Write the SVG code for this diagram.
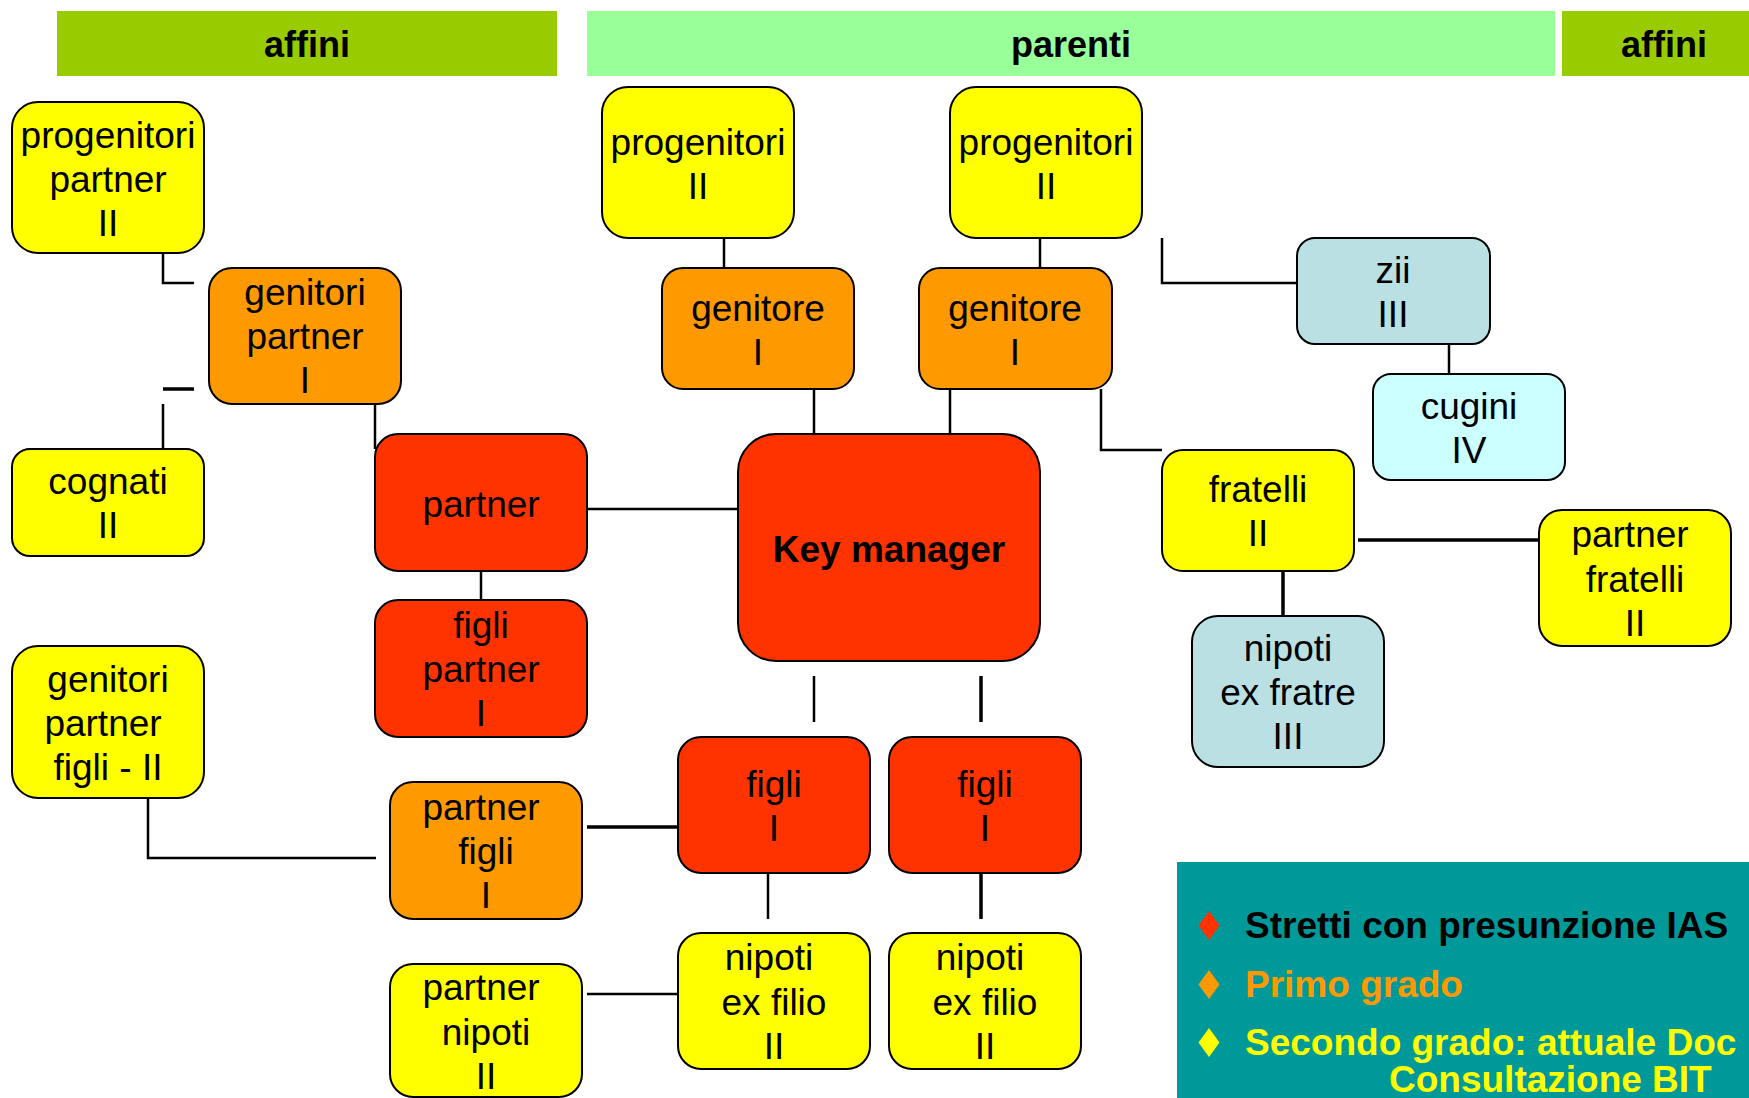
<svg xmlns="http://www.w3.org/2000/svg" width="1749" height="1098" viewBox="0 0 1749 1098">
<style>
.n{stroke:#000;stroke-width:2}
.y{fill:#FFFF00}.o{fill:#FF9900}.r{fill:#FF3300}.b{fill:#BAE0E3}.c{fill:#CCFFFF}
text{font-family:"Liberation Sans",Arial,sans-serif;font-size:37px;text-anchor:middle;fill:#000}
.h{font-weight:bold}
.lg{font-weight:bold;font-size:37px;text-anchor:start}
.k{fill:none;stroke:#000;stroke-width:2.5}
.kt{fill:none;stroke:#000;stroke-width:3.5}
</style>
<rect width="1749" height="1098" fill="#fff"/>
<g id="headers">
<rect x="57" y="11" width="500" height="65" fill="#99CC00"/>
<rect x="587" y="11" width="968" height="65" fill="#99FF99"/>
<rect x="1562" y="11" width="187" height="65" fill="#99CC00"/>
<text class="h" x="307" y="57" style="font-size:36px">affini</text>
<text class="h" x="1071" y="57" style="font-size:36px">parenti</text>
<text class="h" x="1664" y="57" style="font-size:36px">affini</text>
</g>
<g id="connectors">
<polyline class="k" points="163,253 163,283 194,283"/>
<line class="kt" x1="163" y1="389" x2="194" y2="389"/>
<line class="k" x1="163" y1="404" x2="163" y2="450"/>
<line class="k" x1="375" y1="404" x2="375" y2="449"/>
<line class="k" x1="587" y1="509" x2="738" y2="509"/>
<line class="k" x1="481" y1="571" x2="481" y2="600"/>
<polyline class="k" points="148,798 148,858 376,858"/>
<line class="kt" x1="587" y1="827" x2="678" y2="827"/>
<line class="k" x1="587" y1="994" x2="678" y2="994"/>
<line class="k" x1="724" y1="238" x2="724" y2="268"/>
<line class="k" x1="1040" y1="238" x2="1040" y2="268"/>
<line class="k" x1="814" y1="389" x2="814" y2="434"/>
<line class="k" x1="950" y1="389" x2="950" y2="434"/>
<polyline class="k" points="1101,389 1101,450 1162,450"/>
<polyline class="k" points="1162,238 1162,283 1297,283"/>
<line class="k" x1="1449" y1="344" x2="1449" y2="374"/>
<line class="kt" x1="1358" y1="540" x2="1539" y2="540"/>
<line class="kt" x1="1283" y1="571" x2="1283" y2="616"/>
<line class="k" x1="814" y1="676" x2="814" y2="722"/>
<line class="kt" x1="981" y1="676" x2="981" y2="722"/>
<line class="k" x1="768" y1="873" x2="768" y2="919"/>
<line class="kt" x1="981" y1="873" x2="981" y2="919"/>
</g>
<g id="progenitori-partner"><rect class="n y" x="12" y="102" width="192" height="151" rx="26"/><text x="108" y="148">progenitori</text><text x="108" y="192">partner</text><text x="108" y="236">II</text></g>
<g id="genitori-partner"><rect class="n o" x="209" y="268" width="192" height="136" rx="23"/><text x="305" y="305">genitori</text><text x="305" y="349">partner</text><text x="305" y="393">I</text></g>
<g id="cognati"><rect class="n y" x="12" y="449" width="192" height="107" rx="18"/><text x="108" y="494">cognati</text><text x="108" y="538">II</text></g>
<g id="partner"><rect class="n r" x="375" y="434" width="212" height="137" rx="23"/><text x="481" y="517">partner</text></g>
<g id="figli-partner"><rect class="n r" x="375" y="600" width="212" height="137" rx="23"/><text x="481" y="638">figli</text><text x="481" y="682">partner</text><text x="481" y="726">I</text></g>
<g id="genitori-partner-figli"><rect class="n y" x="12" y="646" width="192" height="152" rx="26"/><text x="108" y="692">genitori</text><text x="103" y="736">partner</text><text x="108" y="780">figli - II</text></g>
<g id="partner-figli"><rect class="n o" x="390" y="782" width="192" height="137" rx="23"/><text x="481" y="820">partner</text><text x="486" y="864">figli</text><text x="486" y="908">I</text></g>
<g id="partner-nipoti"><rect class="n y" x="390" y="964" width="192" height="133" rx="23"/><text x="481" y="1000">partner</text><text x="486" y="1045">nipoti</text><text x="486" y="1089">II</text></g>
<g id="progenitori-1"><rect class="n y" x="602" y="87" width="192" height="151" rx="26"/><text x="698" y="155">progenitori</text><text x="698" y="199">II</text></g>
<g id="progenitori-2"><rect class="n y" x="950" y="87" width="192" height="151" rx="26"/><text x="1046" y="155">progenitori</text><text x="1046" y="199">II</text></g>
<g id="genitore-1"><rect class="n o" x="662" y="268" width="192" height="121" rx="21"/><text x="758" y="321">genitore</text><text x="758" y="365">I</text></g>
<g id="genitore-2"><rect class="n o" x="919" y="268" width="193" height="121" rx="21"/><text x="1015" y="321">genitore</text><text x="1015" y="365">I</text></g>
<g id="key-manager"><rect class="n r" x="738" y="434" width="302" height="227" rx="38"/><text class="h" x="889" y="562">Key manager</text></g>
<g id="figli-1"><rect class="n r" x="678" y="737" width="192" height="136" rx="23"/><text x="774" y="797">figli</text><text x="774" y="841">I</text></g>
<g id="figli-2"><rect class="n r" x="889" y="737" width="192" height="136" rx="23"/><text x="985" y="797">figli</text><text x="985" y="841">I</text></g>
<g id="nipoti-filio-1"><rect class="n y" x="678" y="933" width="192" height="136" rx="23"/><text x="769" y="970">nipoti</text><text x="774" y="1015">ex filio</text><text x="774" y="1059">II</text></g>
<g id="nipoti-filio-2"><rect class="n y" x="889" y="933" width="192" height="136" rx="23"/><text x="980" y="970">nipoti</text><text x="985" y="1015">ex filio</text><text x="985" y="1059">II</text></g>
<g id="zii"><rect class="n b" x="1297" y="238" width="193" height="106" rx="18"/><text x="1393" y="283">zii</text><text x="1393" y="327">III</text></g>
<g id="cugini"><rect class="n c" x="1373" y="374" width="192" height="106" rx="18"/><text x="1469" y="419">cugini</text><text x="1469" y="463">IV</text></g>
<g id="fratelli"><rect class="n y" x="1162" y="450" width="192" height="121" rx="21"/><text x="1258" y="502">fratelli</text><text x="1258" y="546">II</text></g>
<g id="partner-fratelli"><rect class="n y" x="1539" y="510" width="192" height="136" rx="23"/><text x="1630" y="547">partner</text><text x="1635" y="592">fratelli</text><text x="1635" y="636">II</text></g>
<g id="nipoti-fratre"><rect class="n b" x="1192" y="616" width="192" height="151" rx="26"/><text x="1288" y="661">nipoti</text><text x="1288" y="705">ex fratre</text><text x="1288" y="749">III</text></g>
<g id="legend">
<rect x="1177" y="862" width="572" height="236" fill="#009999"/>
<polygon points="1209,911 1219.5,925.5 1209,940 1198.5,925.5" fill="#FF3300"/>
<polygon points="1209,970 1219.5,984.5 1209,999 1198.5,984.5" fill="#FF9900"/>
<polygon points="1209,1028 1219.5,1042.5 1209,1057 1198.5,1042.5" fill="#FFFF00"/>
<text class="lg" x="1245" y="938">Stretti con presunzione IAS</text>
<text class="lg" x="1245" y="997" style="fill:#FF9900">Primo grado</text>
<text class="lg" x="1245" y="1055" style="fill:#FFFF00">Secondo grado: attuale Doc</text>
<text class="lg" x="1389" y="1092" style="fill:#FFFF00">Consultazione BIT</text>
</g>
</svg>
